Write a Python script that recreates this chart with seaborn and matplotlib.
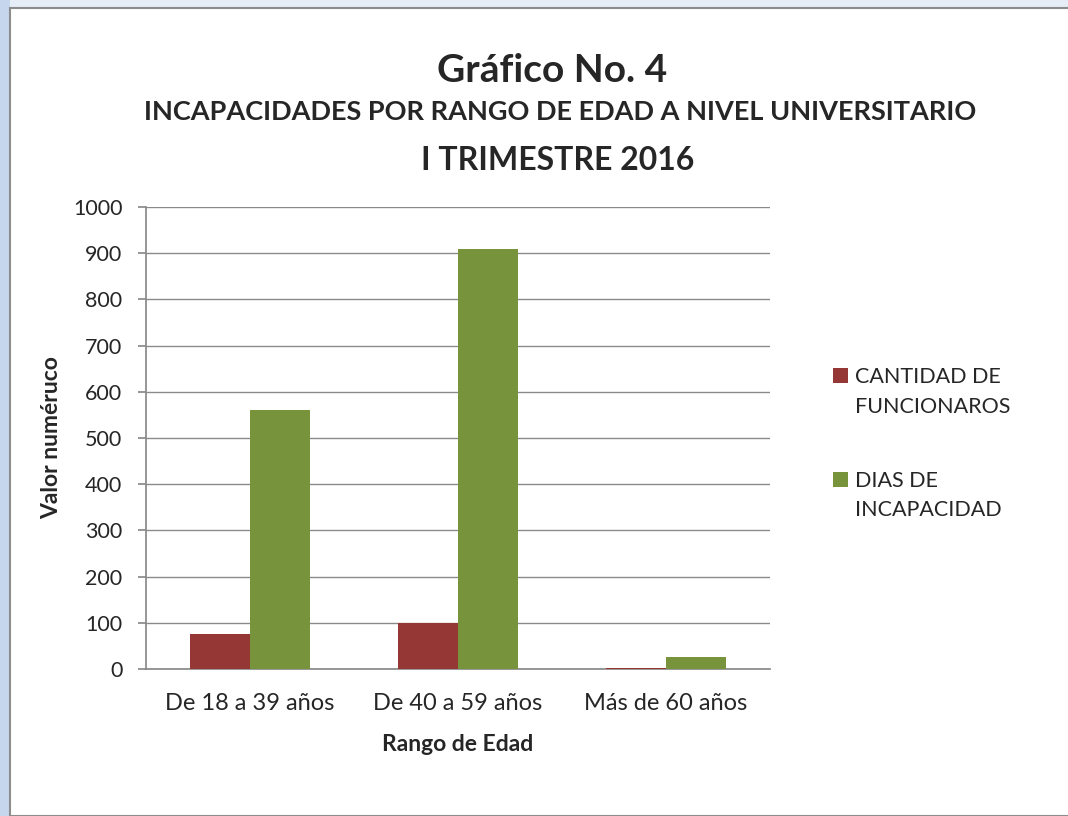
import pandas as pd
import matplotlib.pyplot as plt
import matplotlib.patches as mpatches
import seaborn as sns

categorias = ['De 18 a 39 años', 'De 40 a 59 años', 'Más de 60 años']
series = ['CANTIDAD DE\nFUNCIONAROS', 'DIAS DE\nINCAPACIDAD']
funcionarios = [76, 100, 3]
dias = [560, 910, 27]
colores = ['#953735', '#77933C']

df = pd.DataFrame({
    'rango': categorias * 2,
    'serie': [series[0]] * 3 + [series[1]] * 3,
    'valor': funcionarios + dias,
})

sns.set_theme(style='white')
plt.rcParams['font.family'] = ['Lato', 'DejaVu Sans']

fig = plt.figure(figsize=(10.68, 8.16), dpi=100)
fig.patch.set_facecolor('#e6edf6')
# franja azul a la izquierda (fondo de la diapositiva)
fig.add_artist(mpatches.Rectangle((0, 0), 10 / 1068, 1, transform=fig.transFigure,
                                  facecolor='#c6d6ed', edgecolor='none', zorder=-6))
fondo = mpatches.Rectangle((10 / 1068, 0), 1.1, 1 - 8 / 816, transform=fig.transFigure,
                           facecolor='white', edgecolor='#8c8c8c', linewidth=1.5, zorder=-5)
fig.add_artist(fondo)

ax = fig.add_axes([146 / 1068, 1 - 669 / 816, 624 / 1068, 462 / 816])
ax.set_facecolor('white')
sns.barplot(data=df, x='rango', y='valor', hue='serie', hue_order=series,
            palette=colores, width=0.58, saturation=1, linewidth=0, ax=ax, zorder=3)

ax.set_ylim(0, 1000)
ax.set_yticks(range(0, 1001, 100))
ax.grid(axis='y', color='#8a8a8a', linewidth=1)
ax.set_axisbelow(True)
for s in ['top', 'right']:
    ax.spines[s].set_visible(False)
ax.spines['left'].set_color('#8a8a8a')
ax.spines['bottom'].set_color('#8a8a8a')
ax.tick_params(axis='y', length=6, color='#8a8a8a', labelsize=15.5, left=True, pad=11)
ax.tick_params(axis='x', length=0, labelsize=17, pad=17)
ax.set_xlabel('Rango de Edad', fontsize=16.5, fontweight='bold', labelpad=15)
ax.set_ylabel('Valor numéruco', fontsize=16.5, fontweight='bold', labelpad=8)

leg = ax.legend(loc='upper left', bbox_to_anchor=(1.07, 0.695), frameon=False, fontsize=15.5,
                handlelength=0.7, handleheight=0.7, labelspacing=2.5, handletextpad=0.3)
for t in leg.get_texts():
    t.set_linespacing(1.6)
for h in leg.legend_handles:
    h.set_y(h.get_y() + 12)

fig.text(0.517, 1 - 70 / 816, 'Gráfico No. 4', ha='center', va='center', fontsize=28, fontweight='bold')
fig.text(0.524, 1 - 112 / 816, 'INCAPACIDADES POR RANGO DE EDAD A NIVEL UNIVERSITARIO',
         ha='center', va='center', fontsize=19.5, fontweight='bold')
fig.text(0.522, 1 - 160 / 816, 'I TRIMESTRE 2016', ha='center', va='center', fontsize=23, fontweight='bold')

fig.savefig('out.png', dpi=100)
